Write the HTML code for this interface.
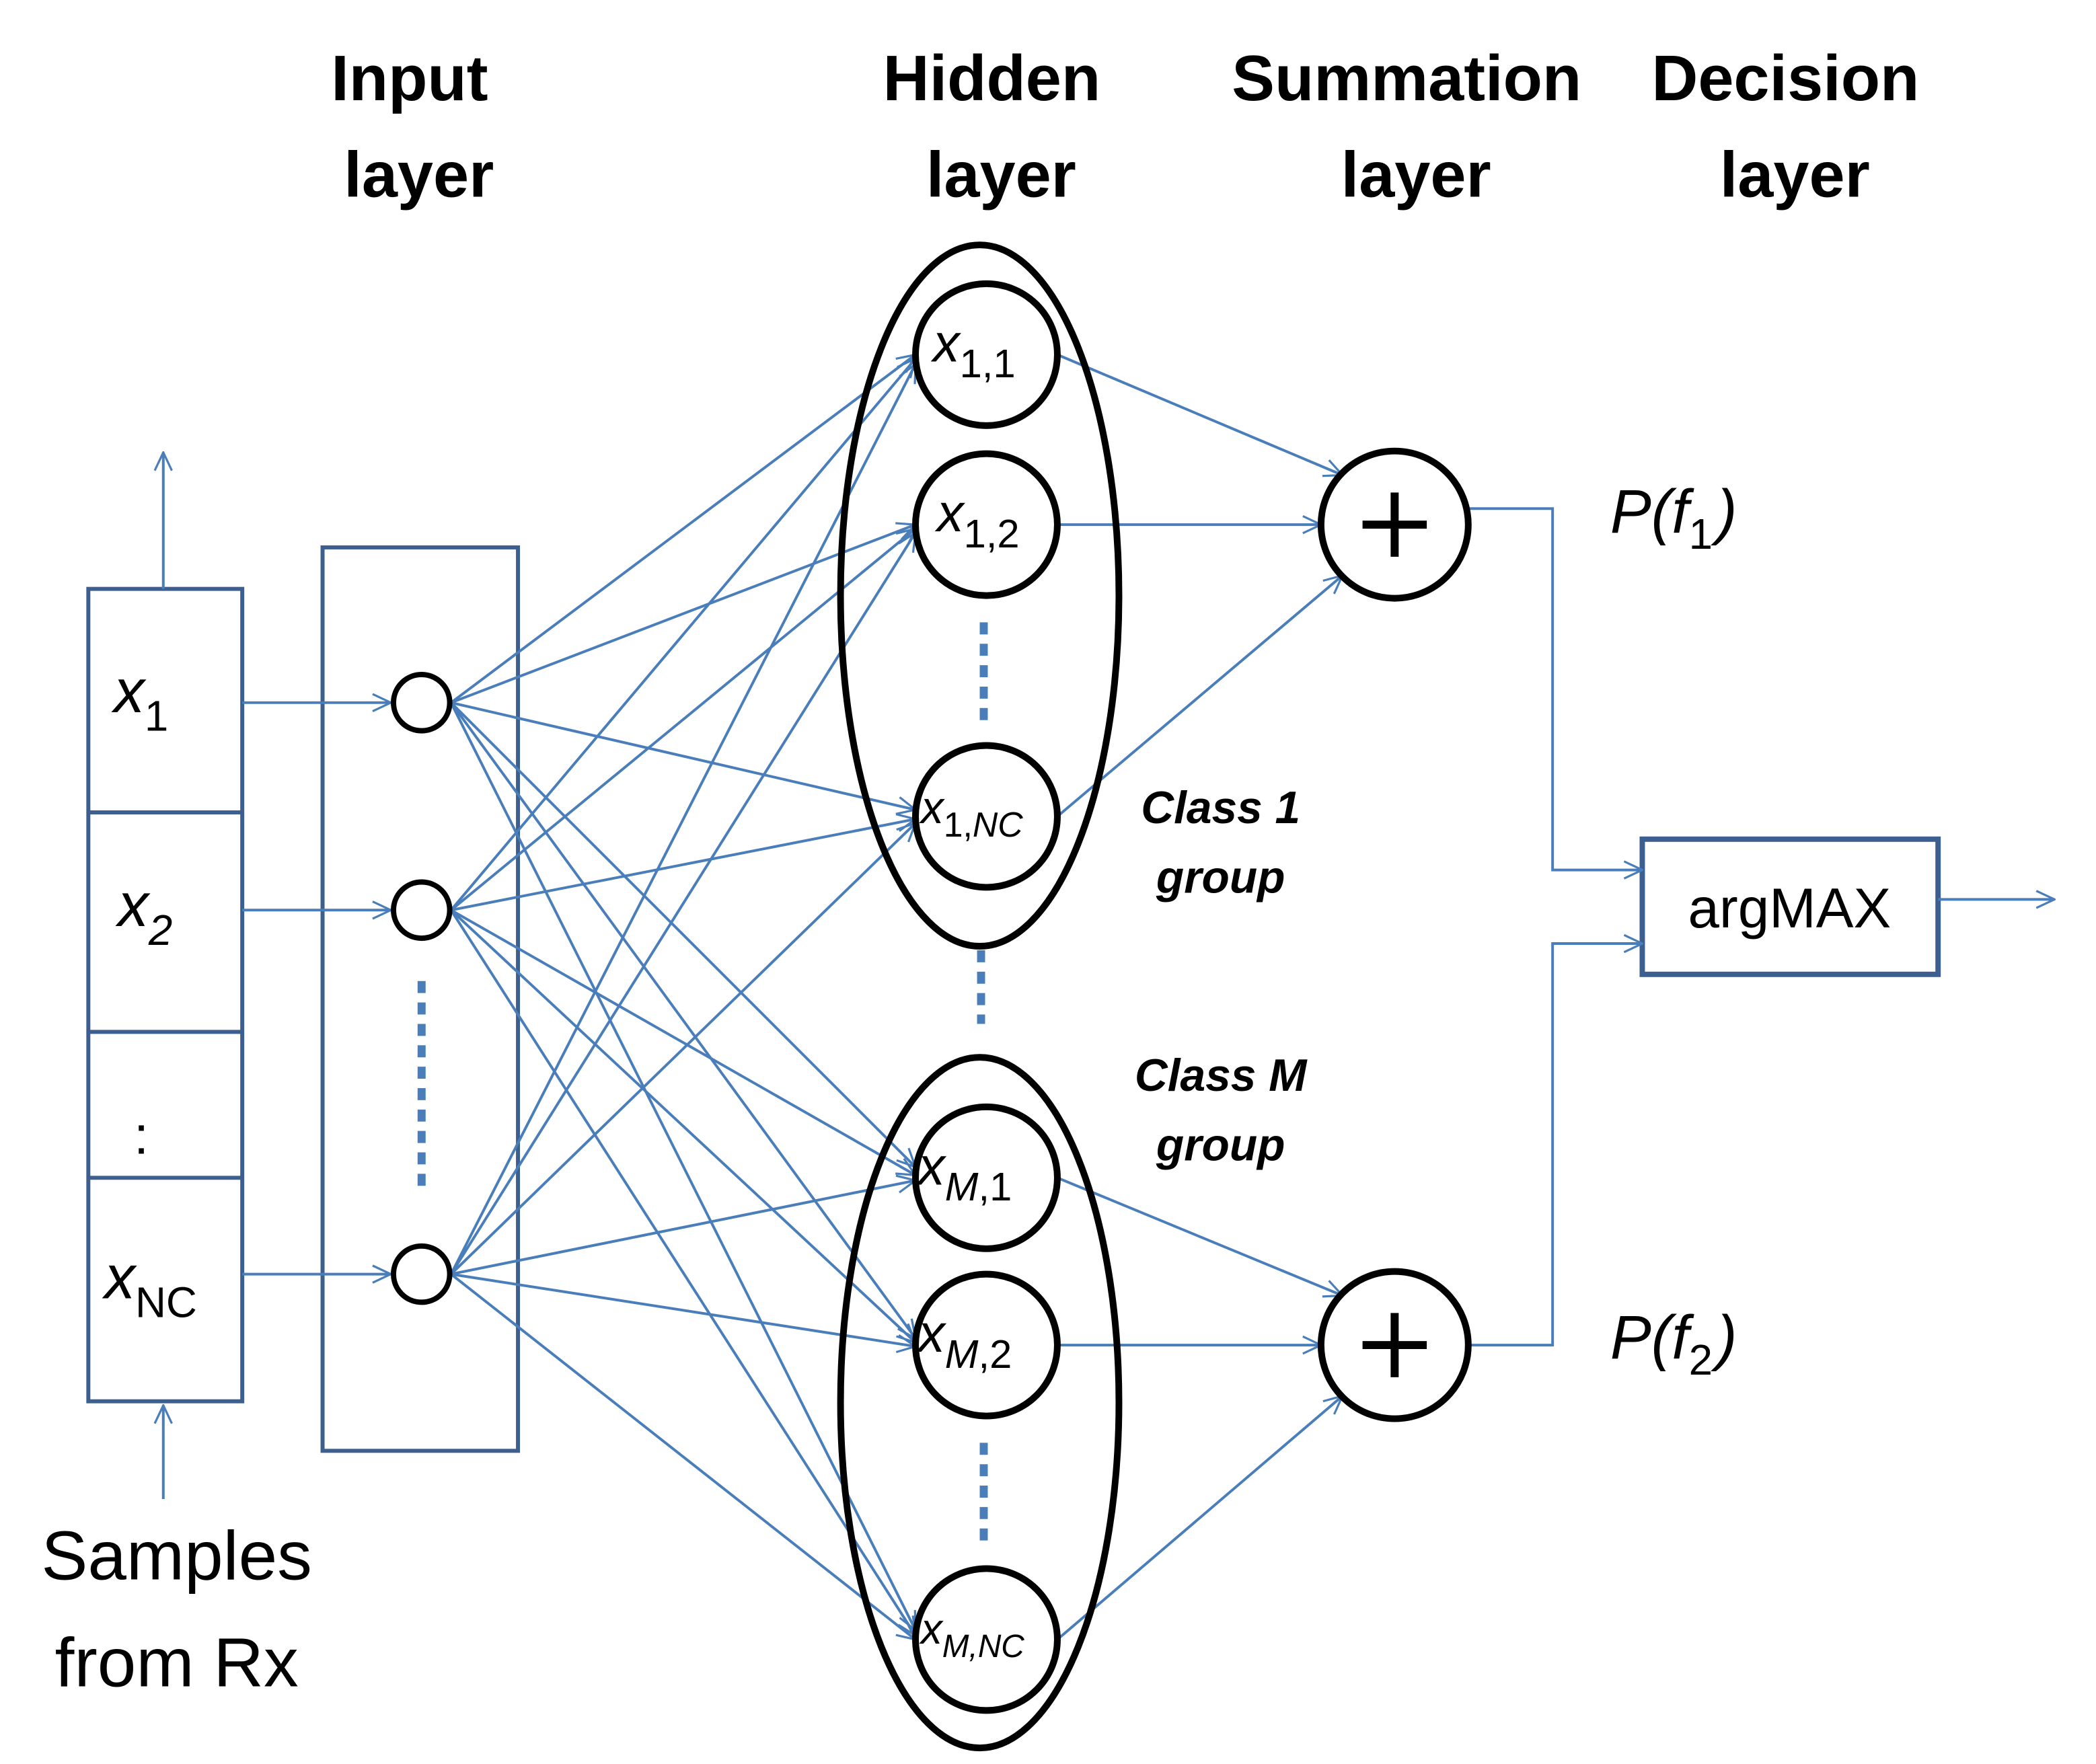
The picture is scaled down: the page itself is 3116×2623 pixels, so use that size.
<!DOCTYPE html>
<html><head><style>html,body{margin:0;padding:0;background:#fff}svg{display:block}</style></head><body>
<svg width="3116" height="2623" viewBox="0 0 1566 1318" preserveAspectRatio="none" xmlns="http://www.w3.org/2000/svg" font-family="Liberation Sans, sans-serif">
<defs><marker id="a" viewBox="0 0 20 20" refX="19" refY="10" markerWidth="16" markerHeight="16" markerUnits="userSpaceOnUse" orient="auto"><path d="M2,2 L19,10 L2,18" fill="none" stroke="#4a7ebb" stroke-width="2"/></marker></defs>
<g font-weight="bold" font-size="48" text-anchor="middle" fill="#000">
<text x="306" y="75">Input</text><text x="313" y="147">layer</text>
<text x="741" y="75">Hidden</text><text x="748" y="147">layer</text>
<text x="1051" y="75">Summation</text><text x="1058" y="147">layer</text>
<text x="1334" y="75">Decision</text><text x="1341" y="147">layer</text>
</g>
<g fill="none" stroke="#3d5f8f" stroke-width="3">
<rect x="66" y="440" width="115" height="607"/>
<line x1="66" y1="607" x2="181" y2="607"/><line x1="66" y1="771" x2="181" y2="771"/><line x1="66" y1="880" x2="181" y2="880"/>
<rect x="241" y="409" width="146" height="675"/>
<rect x="1227" y="627" width="221" height="101" stroke-width="4"/>
</g>
<g font-style="italic" font-size="46" fill="#000">
<text x="85" y="532">x<tspan font-style="normal" font-size="32" dy="14">1</tspan></text>
<text x="88" y="692">x<tspan font-size="32" dy="14">2</tspan></text>
<text x="78" y="970">x<tspan font-style="normal" font-size="32" dy="14">NC</tspan></text>
<text x="1203" y="398">P(f<tspan font-size="32" dy="12" font-style="normal">1</tspan><tspan dy="-12" dx="3">)</tspan></text>
<text x="1203" y="1015">P(f<tspan font-size="32" dy="12" font-style="normal">2</tspan><tspan dy="-12" dx="3">)</tspan></text>
</g>
<text x="100" y="862" font-size="40">:</text>
<g font-size="52" text-anchor="middle"><text x="132" y="1180">Samples</text><text x="132" y="1260">from Rx</text></g>
<text x="1337" y="693" font-size="42" text-anchor="middle">argMAX</text>
<g font-weight="bold" font-style="italic" font-size="34" text-anchor="middle">
<text x="912" y="615">Class 1</text><text x="912" y="667">group</text>
<text x="912" y="815">Class M</text><text x="912" y="867">group</text>
</g>
<g stroke="#4a7ebb" stroke-width="2" fill="none" marker-end="url(#a)">
<line x1="122" y1="440" x2="122" y2="338"/><line x1="122" y1="1120" x2="122" y2="1050"/>
<line x1="181" y1="525" x2="292" y2="525"/><line x1="181" y1="680" x2="292" y2="680"/><line x1="181" y1="952" x2="292" y2="952"/>
<line x1="1448" y1="672" x2="1535" y2="672"/>
<polyline points="1097,380 1160,380 1160,650 1227,650"/>
<polyline points="1097,1005 1160,1005 1160,705 1227,705"/>
<line x1="790" y1="265" x2="1003" y2="355"/><line x1="790" y1="392" x2="987" y2="392"/><line x1="790" y1="610" x2="1003" y2="430"/>
<line x1="790" y1="880" x2="1003" y2="968"/><line x1="790" y1="1005" x2="987" y2="1005"/><line x1="790" y1="1225" x2="1003" y2="1043"/>
<line x1="337" y1="525" x2="684" y2="265"/><line x1="337" y1="525" x2="684" y2="392"/><line x1="337" y1="525" x2="684" y2="605"/><line x1="337" y1="525" x2="684" y2="872"/><line x1="337" y1="525" x2="684" y2="1000"/><line x1="337" y1="525" x2="684" y2="1218"/>
<line x1="337" y1="680" x2="684" y2="268"/><line x1="337" y1="680" x2="684" y2="395"/><line x1="337" y1="680" x2="684" y2="612"/><line x1="337" y1="680" x2="684" y2="878"/><line x1="337" y1="680" x2="684" y2="1003"/><line x1="337" y1="680" x2="684" y2="1222"/>
<line x1="337" y1="952" x2="684" y2="272"/><line x1="337" y1="952" x2="684" y2="398"/><line x1="337" y1="952" x2="684" y2="615"/><line x1="337" y1="952" x2="684" y2="882"/><line x1="337" y1="952" x2="684" y2="1006"/><line x1="337" y1="952" x2="684" y2="1225"/>
</g>
<g stroke="#4a7ebb" stroke-width="6" stroke-dasharray="9,7">
<line x1="315" y1="733" x2="315" y2="890"/><line x1="735" y1="465" x2="735" y2="540"/><line x1="733" y1="710" x2="733" y2="765"/><line x1="735" y1="1078" x2="735" y2="1152"/>
</g>
<g fill="#fff" stroke="#000" stroke-width="4">
<circle cx="315" cy="525" r="21"/><circle cx="315" cy="680" r="21"/><circle cx="315" cy="952" r="21"/>
</g>
<g fill="none" stroke="#000" stroke-width="5">
<ellipse cx="732" cy="445" rx="104" ry="262"/><ellipse cx="732" cy="1048" rx="104" ry="258"/>
<circle cx="737" cy="265" r="53"/><circle cx="737" cy="392" r="53"/><circle cx="737" cy="610" r="53"/>
<circle cx="737" cy="880" r="53"/><circle cx="737" cy="1005" r="53"/><circle cx="737" cy="1225" r="53"/>
<circle cx="1042" cy="392" r="55"/><circle cx="1042" cy="1005" r="55"/>
<path d="M1042,368v48M1018,392h48M1042,981v48M1018,1005h48" stroke-width="6"/>
</g>
<g font-style="italic" font-size="40" fill="#000">
<text x="697" y="270">x<tspan font-style="normal" font-size="30" dy="12">1,1</tspan></text>
<text x="700" y="397">x<tspan font-style="normal" font-size="30" dy="12">1,2</tspan></text>
<text x="688" y="615" font-size="34">x<tspan font-style="normal" font-size="26" dy="10">1,<tspan font-style="italic">NC</tspan></tspan></text>
<text x="686" y="885">x<tspan font-size="30" dy="12">M</tspan><tspan font-style="normal" font-size="30">,1</tspan></text>
<text x="686" y="1010">x<tspan font-size="30" dy="12">M</tspan><tspan font-style="normal" font-size="30">,2</tspan></text>
<text x="688" y="1228" font-size="32">x<tspan font-size="24" dy="10">M,NC</tspan></text>
</g>
</svg>
</body></html>
